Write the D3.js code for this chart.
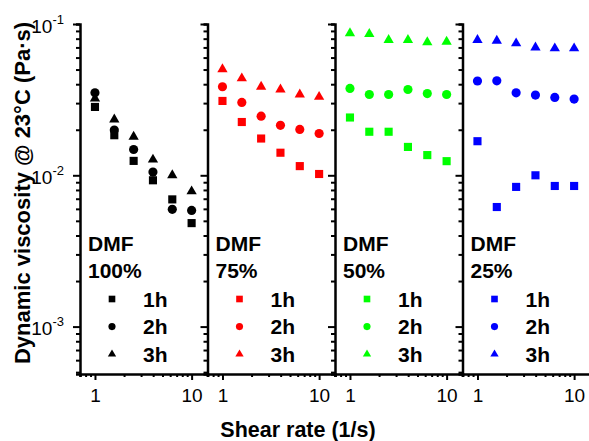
<!DOCTYPE html>
<html>
<head>
    <meta charset="utf-8">
    <title>Dynamic viscosity vs shear rate</title>
    <script src="https://unpkg.com/d3@7/dist/d3.min.js"></script>
    <style>
        body { margin: 0; background: #fff; }
        svg { display: block; font-family: "Liberation Sans", Arial, sans-serif; }
        .domain { stroke: #000; stroke-width: 2.5; }
        .tick line { stroke: #000; stroke-width: 2; }
    </style>
</head>
<body>
<svg width="589" height="441"></svg>
<script>
    // shear rate (1/s), same for every panel
    const shearRate = [1, 1.585, 2.512, 3.981, 6.31, 10];
    const dmfLabels = ['100%', '75%', '50%', '25%'];
    const timeLabels = ['1h', '2h', '3h'];
    const panelColors = ['#000000', '#ff0000', '#00ff00', '#0000ff'];

    // viscosity (Pa·s), rows = 1h, 2h, 3h
    const dmf100 = [
        [0.0283, 0.0184, 0.01245, 0.00927, 0.00693, 0.00483],
        [0.0351, 0.0199, 0.0148, 0.0105, 0.00596, 0.00586],
        [0.0322, 0.0234, 0.0180, 0.0127, 0.0100, 0.00783]
    ];
    const dmf75 = [
        [0.0310, 0.0225, 0.0175, 0.0141, 0.0115, 0.0102],
        [0.0385, 0.0303, 0.0246, 0.0214, 0.0201, 0.0189],
        [0.0503, 0.0437, 0.0385, 0.0369, 0.0342, 0.0330]
    ];
    const dmf50 = [
        [0.0241, 0.0194, 0.0194, 0.0154, 0.0136, 0.0124],
        [0.0375, 0.0342, 0.0342, 0.0369, 0.0347, 0.0342],
        [0.0868, 0.0859, 0.0783, 0.0783, 0.0757, 0.0763]
    ];
    const dmf25 = [
        [0.0168, 0.00617, 0.00838, 0.0100, 0.0085, 0.0085],
        [0.0420, 0.0421, 0.0351, 0.0339, 0.0327, 0.0319],
        [0.0783, 0.0776, 0.0745, 0.0700, 0.0690, 0.0690]
    ];
    const panelData = [dmf100, dmf75, dmf50, dmf25];

    const svg = d3.select('svg');
    const plotLeft = 80, panelW = 127.5, plotTop = 24, plotBottom = 374;

    const y = d3.scaleLog().domain([4.86e-4, 0.1]).range([plotBottom, plotTop]);

    const yTicks = [];
    [-4, -3, -2].forEach(e => d3.range(1, 10).forEach(m => {
        const v = m * Math.pow(10, e);
        if (v >= 4.86e-4 && v <= 0.1 + 1e-9) yTicks.push(v);
    }));
    yTicks.push(0.1);
    const isMajor = v => Math.abs(Math.log10(v) - Math.round(Math.log10(v))) < 1e-6;

    const xTicks = [0.7, 0.8, 0.9, 1, 2, 3, 4, 5, 6, 7, 8, 9, 10];
    const shapes = [d3.symbolSquare, d3.symbolCircle, d3.symbolTriangle];
    const markSize = [66, 66, 46];
    const legendSize = [44, 40, 30];

    panelData.forEach((series, p) => {
        const x0 = plotLeft + p * panelW;
        const x = d3.scaleLog().domain([0.7, 14.6]).range([x0, x0 + panelW]);
        const g = svg.append('g');

        // bottom axis
        const gx = g.append('g')
            .attr('transform', `translate(0,${plotBottom})`)
            .call(d3.axisBottom(x).tickValues(xTicks).tickSizeOuter(0).tickSize(3)
                .tickFormat(d => (d === 1 || d === 10) ? d : ''));
        gx.selectAll('.tick line').filter(d => d === 1 || d === 10).attr('y2', 6);
        gx.selectAll('.tick text').attr('font-size', 19).attr('dy', '1.15em').attr('fill', '#000');

        // left axis
        const gy = g.append('g')
            .attr('transform', `translate(${x0},0)`)
            .call(d3.axisLeft(y).tickValues(yTicks).tickSizeOuter(0).tickSize(4).tickFormat(''));
        gy.selectAll('.tick line').filter(isMajor).attr('x2', -7);
        if (p === 0) {
            const lab = gy.selectAll('.tick').filter(isMajor).select('text')
                .attr('x', -16).attr('dy', null).attr('y', 8)
                .attr('font-size', 19).attr('fill', '#000').attr('text-anchor', 'end');
            lab.text(null);
            lab.append('tspan').text('10');
            lab.append('tspan').attr('font-size', 13).attr('dy', -9)
                .text(d => '-' + Math.round(-Math.log10(d)));
        }

        // data points
        series.forEach((vals, s) => {
            g.append('g').selectAll('path')
                .data(vals.map((v, i) => [shearRate[i], v]))
                .join('path')
                .attr('transform', d => `translate(${x(d[0])},${y(d[1])})`)
                .attr('d', d3.symbol().type(shapes[s]).size(markSize[s]))
                .attr('fill', panelColors[p]);
        });

        // legend
        const lg = g.append('g').attr('font-weight', 'bold').attr('font-size', 21).attr('fill', '#000');
        lg.append('text').attr('x', x0 + 8).attr('y', 250.5).text('DMF');
        lg.append('text').attr('x', x0 + 8).attr('y', 278).text(dmfLabels[p]);
        timeLabels.forEach((t, s) => {
            const ly = 299 + s * 27.6;
            lg.append('path')
                .attr('transform', `translate(${x0 + 32},${ly})`)
                .attr('d', d3.symbol().type(shapes[s]).size(legendSize[s]))
                .attr('fill', panelColors[p]);
            lg.append('text').attr('x', x0 + 63).attr('y', ly + 7.5).text(t);
        });
    });

    // axis titles
    svg.append('text')
        .attr('x', 298).attr('y', 437)
        .attr('text-anchor', 'middle')
        .attr('font-weight', 'bold').attr('font-size', 21.5)
        .text('Shear rate (1/s)');

    svg.append('text')
        .attr('transform', 'translate(30,193) rotate(-90)')
        .attr('text-anchor', 'middle')
        .attr('font-weight', 'bold').attr('font-size', 22)
        .text('Dynamic viscosity @ 23°C (Pa·s)');
</script>
</body>
</html>
